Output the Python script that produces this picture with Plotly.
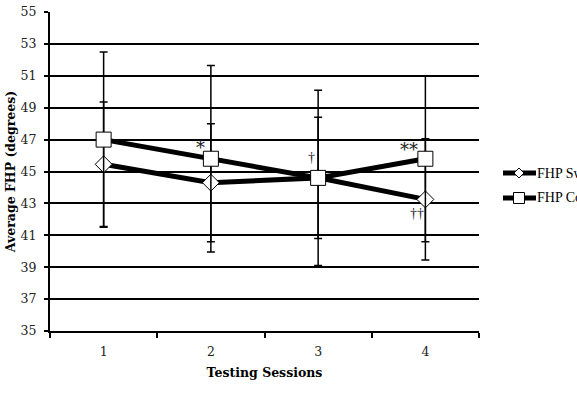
import plotly.graph_objects as go

sessions = ["1", "2", "3", "4"]
swim_mean = [45.45, 44.3, 44.6, 43.25]
swim_err = [3.9, 3.7, 3.8, 3.8]
ctrl_mean = [47.0, 45.8, 44.6, 45.8]
ctrl_err = [5.5, 5.85, 5.5, 5.2]
y_ticks = [35, 37, 39, 41, 43, 45, 47, 49, 51, 53, 55]
marks = [("2", 46.5, "*"), ("3", 45.9, "†"), ("4", 46.35, "**"), ("4", 42.35, "††")]
series_names = ["FHP Sw", "FHP Co"]

serif = "DejaVu Serif, Liberation Serif, serif"
W, H = 577, 393
ML, MR, MT, MB = 50, 98, 12, 62
PW, PH = W - ML - MR, H - MT - MB


def px(x):
    return (x - ML) / PW


def py(y):
    return (H - MB - y) / PH


fig = go.Figure()
fig.add_trace(go.Scatter(
    x=sessions, y=swim_mean, name=series_names[0], mode="lines+markers",
    line=dict(color="black", width=5), showlegend=False,
    marker=dict(symbol="diamond", size=13, color="white", line=dict(color="black", width=1)),
    error_y=dict(type="data", array=swim_err, color="black", thickness=1.5, width=4),
))
fig.add_trace(go.Scatter(
    x=sessions, y=ctrl_mean, name=series_names[1], mode="lines+markers",
    line=dict(color="black", width=5), showlegend=False,
    marker=dict(symbol="square", size=15, color="white", line=dict(color="black", width=1)),
    error_y=dict(type="data", array=ctrl_err, color="black", thickness=1.5, width=4),
))

shifts = [(-10, 18, serif), (-7, 14, "Liberation Serif"), (-16, 18, serif), (-8, 14, "Liberation Serif")]
for (xv, yv, t), (dx, s, fam) in zip(marks, shifts):
    fig.add_annotation(x=sessions.index(xv), y=yv, text=t, showarrow=False, xshift=dx,
                       font=dict(family=fam, size=s, color="#222222"))

# manual legend
shapes = []
for i, name in enumerate(series_names):
    yc = 173 + 25 * i
    xc = 519
    shapes.append(dict(type="line", xref="paper", yref="paper",
                       x0=px(503), x1=px(536), y0=py(yc), y1=py(yc),
                       line=dict(color="black", width=5)))
    if i == 0:
        d = 5
        path = (f"M {px(xc - d)} {py(yc)} L {px(xc)} {py(yc - d)} L {px(xc + d)} {py(yc)} "
                f"L {px(xc)} {py(yc + d)} Z")
        shapes.append(dict(type="path", xref="paper", yref="paper", path=path,
                           fillcolor="white", line=dict(color="black", width=1)))
    else:
        d = 5.5
        shapes.append(dict(type="rect", xref="paper", yref="paper",
                           x0=px(xc - d), x1=px(xc + d), y0=py(yc - d), y1=py(yc + d),
                           fillcolor="white", line=dict(color="black", width=1)))
    fig.add_annotation(xref="paper", yref="paper", x=px(535), y=py(yc), text=name,
                       xanchor="left", yanchor="middle", showarrow=False,
                       font=dict(family="Liberation Serif", size=14, color="black"))

fig.update_layout(
    width=W, height=H,
    margin=dict(l=ML, r=MR, t=MT, b=MB, autoexpand=False),
    paper_bgcolor="white", plot_bgcolor="white",
    showlegend=False,
    shapes=shapes,
    xaxis=dict(type="category", categoryorder="array", categoryarray=sessions,
               range=[-0.5, 3.5], showline=True, linecolor="black", linewidth=2,
               ticks="outside", tickson="boundaries", ticklen=5, tickwidth=2, tickcolor="black",
               showgrid=False, zeroline=False, ticklabelstandoff=8,
               tickfont=dict(family=serif, size=12.5, color="#222"),
               title=dict(text="<b>Testing Sessions</b>", standoff=10,
                          font=dict(family=serif, size=12.5, color="black"))),
    yaxis=dict(range=[35, 55], tickvals=y_ticks, showline=True, linecolor="black", linewidth=2,
               ticks="outside", ticklen=4, tickwidth=2, tickcolor="black",
               showgrid=True, gridcolor="black", gridwidth=2, zeroline=False,
               ticklabelstandoff=5,
               tickfont=dict(family=serif, size=12.5, color="#222"),
               title=dict(text="<b>Average FHP (degrees)</b>", standoff=2,
                          font=dict(family=serif, size=12.5, color="black"))),
)

fig.write_html("out.html")
